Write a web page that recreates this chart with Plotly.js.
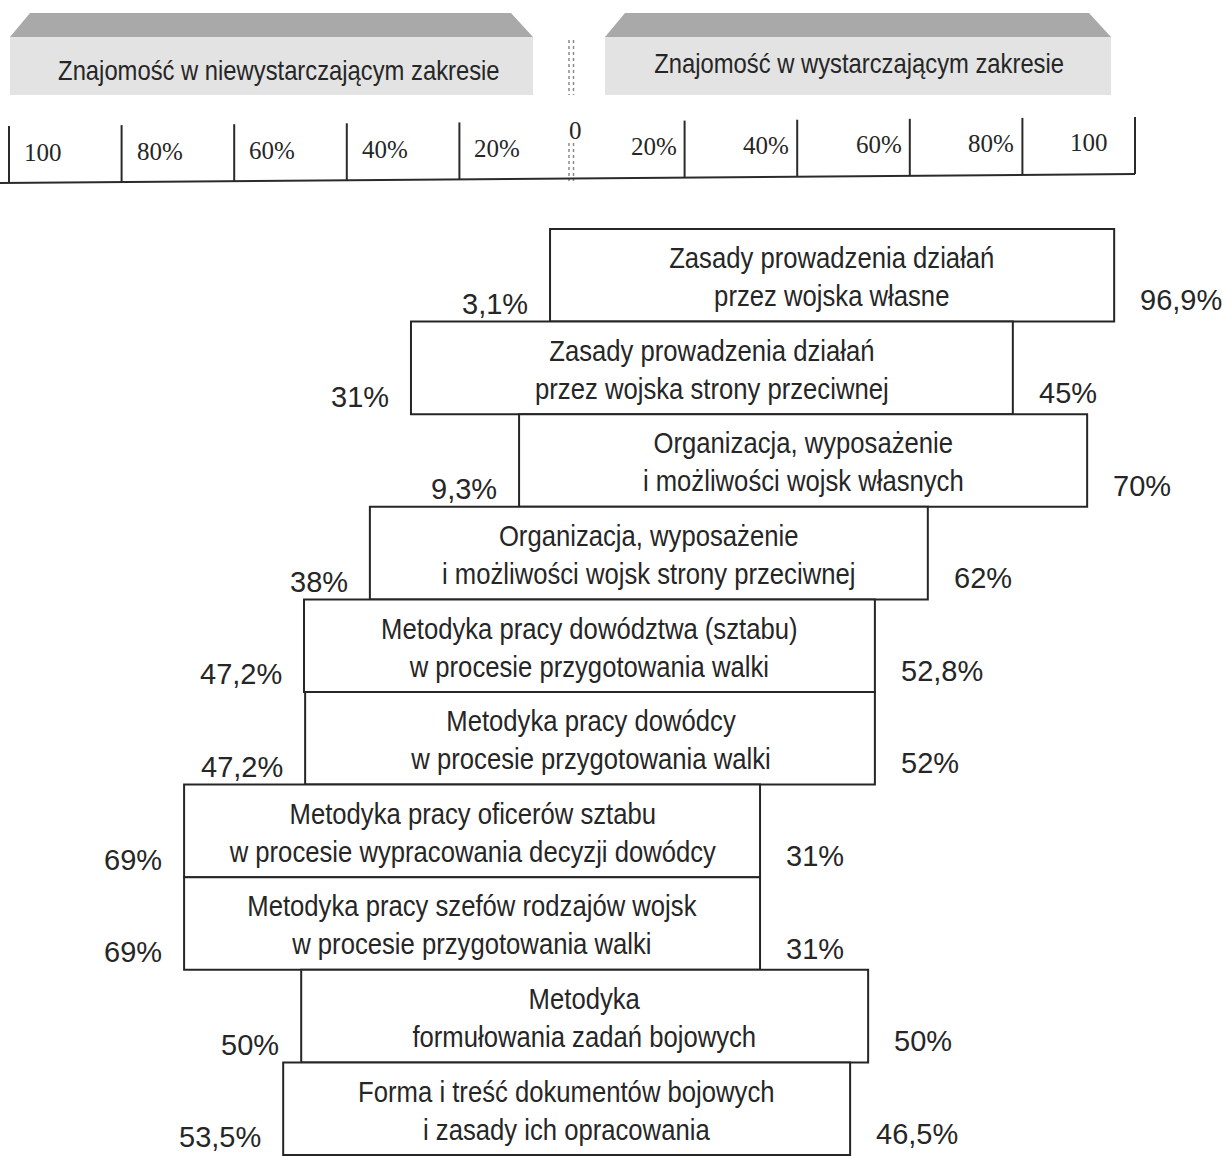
<!DOCTYPE html>
<html>
<head>
<meta charset="utf-8">
<script src="https://cdn.plot.ly/plotly-3.0.1.min.js"></script>
<style>html,body{margin:0;padding:0;background:#fff;}#chart{width:1223px;height:1156px;}</style>
</head>
<body>
<div id="chart"></div>
<script>
// ---- data ----
const topics = [
  "Zasady prowadzenia działań<br>przez wojska własne",
  "Zasady prowadzenia działań<br>przez wojska strony przeciwnej",
  "Organizacja, wyposażenie<br>i możliwości wojsk własnych",
  "Organizacja, wyposażenie<br>i możliwości wojsk strony przeciwnej",
  "Metodyka pracy dowództwa (sztabu)<br>w procesie przygotowania walki",
  "Metodyka pracy dowódcy<br>w procesie przygotowania walki",
  "Metodyka pracy oficerów sztabu<br>w procesie wypracowania decyzji dowódcy",
  "Metodyka pracy szefów rodzajów wojsk<br>w procesie przygotowania walki",
  "Metodyka<br>formułowania zadań bojowych",
  "Forma i treść dokumentów bojowych<br>i zasady ich opracowania"
];
const insufficient = [3.1, 31, 9.3, 38, 47.2, 47.2, 69, 69, 50, 53.5];
const sufficient   = [96.9, 45, 70, 62, 52.8, 52, 31, 31, 50, 46.5];
// drawn extent of each box on the % scale
const barFrom = [-3.9, -28.6, -9.4, -35.9, -47.6, -47.4, -68.9, -68.9, -48.1, -51.3];
const barTo   = [96.3, 78.3, 91.5, 63.2, 53.8, 53.8, 33.4, 33.4, 52.6, 49.4];
const scaleTicks  = [-100, -80, -60, -40, -20, 20, 40, 60, 80, 100];
const scaleLabels = ["100", "80%", "60%", "40%", "20%", "20%", "40%", "60%", "80%", "100"];
const headerLabels = ["Znajomość w niewystarczającym zakresie", "Znajomość w wystarczającym zakresie"];

// ---- geometry helpers ----
const W = 1223, H = 1156;
const X0 = 572, PXPCT = 5.63;
const xr = [(0 - X0) / PXPCT, (W - X0) / PXPCT];
const ROW0 = 229, ROWH = 92.6;
const yr = [(H - ROW0) / ROWH - 0.5, (0 - ROW0) / ROWH - 0.5];
const px = v => X0 + PXPCT * v;
const PX = p => p / W;
const PY = p => 1 - p / H;
const fmt = v => String(v).replace('.', ',') + '%';

const SANS = '"Liberation Sans", Arial, sans-serif';
const SERIF = '"Liberation Serif", "Times New Roman", serif';
const INK = '#262626';

const rows = topics.map((_, i) => i);

const trace = {
  type: 'bar', orientation: 'h',
  y: rows,
  base: barFrom,
  x: barTo.map((t, i) => t - barFrom[i]),
  width: 1,
  marker: {color: '#ffffff', line: {color: '#262626', width: 2}},
  hoverinfo: 'skip', showlegend: false
};

const shapes = [];
const annotations = [];
const narrowIdx = [];   // annotations to be drawn condensed (like Arial Narrow)

// header boxes
function headerBox(l, r) {
  shapes.push({type: 'rect', xref: 'paper', yref: 'paper', x0: PX(l), x1: PX(r), y0: PY(95), y1: PY(37),
    fillcolor: '#e3e3e3', line: {width: 0}, layer: 'below'});
  shapes.push({type: 'path', xref: 'paper', yref: 'paper',
    path: `M ${PX(l)} ${PY(37)} L ${PX(l + 20)} ${PY(13)} L ${PX(r - 22)} ${PY(13)} L ${PX(r)} ${PY(37)} Z`,
    fillcolor: '#a9a9a9', line: {width: 0}, layer: 'below'});
}
headerBox(10, 533);
headerBox(605, 1111);
narrowIdx.push([annotations.length, 0.85]);
annotations.push({xref: 'paper', yref: 'paper', x: PX(279), y: PY(70), text: headerLabels[0], showarrow: false,
  font: {family: SANS, size: 28, color: INK}, xanchor: 'center', yanchor: 'middle'});
narrowIdx.push([annotations.length, 0.85]);
annotations.push({xref: 'paper', yref: 'paper', x: PX(859), y: PY(63), text: headerLabels[1], showarrow: false,
  font: {family: SANS, size: 28, color: INK}, xanchor: 'center', yanchor: 'middle'});

// centre dashed double line
[[40, 95], [143, 181]].forEach(([a, b]) => {
  [569, 573.5].forEach(xx => shapes.push({type: 'line', xref: 'paper', yref: 'paper', x0: PX(xx), x1: PX(xx),
    y0: PY(a), y1: PY(b), line: {color: '#8a8a8a', width: 1.5, dash: 'dot'}}));
});
annotations.push({xref: 'paper', yref: 'paper', x: PX(575), y: PY(130), text: '0', showarrow: false,
  font: {family: SERIF, size: 25, color: INK}, xanchor: 'center', yanchor: 'middle'});

// ruler (slightly skewed like the scan)
const skew = (p, a, b) => a + (b - a) * (p - 9) / (1135 - 9);
shapes.push({type: 'line', xref: 'paper', yref: 'paper', x0: PX(0), x1: PX(1135), y0: PY(183), y1: PY(174),
  line: {color: '#2a2a2a', width: 2}});
scaleTicks.forEach((t, k) => {
  const p = px(t);
  shapes.push({type: 'line', xref: 'paper', yref: 'paper', x0: PX(p), x1: PX(p),
    y0: PY(skew(p, 126, 117)), y1: PY(skew(p, 183, 174)), line: {color: '#2a2a2a', width: 2}});
  const left = t < 0;
  let shift = left ? 13 : -6;
  if (t === 100) shift = -25;
  annotations.push({xref: 'paper', yref: 'paper', x: PX(p), y: PY(skew(p, 152, 143)), text: scaleLabels[k],
    showarrow: false, xanchor: left ? 'left' : 'right', yanchor: 'middle', xshift: shift,
    font: {family: SERIF, size: 25, color: INK}});
});

// box texts and side labels
rows.forEach(i => {
  narrowIdx.push([annotations.length, 0.885]);
  annotations.push({xref: 'x', yref: 'y', x: (barFrom[i] + barTo[i]) / 2, y: i + 0.02, text: topics[i], showarrow: false,
    xanchor: 'center', yanchor: 'middle', font: {family: SANS, size: 29, color: INK}});
  annotations.push({xref: 'x', yref: 'y', x: barFrom[i], y: i + 0.31, text: fmt(insufficient[i]), showarrow: false,
    xanchor: 'right', yanchor: 'middle', xshift: -20, font: {family: SANS, size: 29, color: INK}});
  annotations.push({xref: 'x', yref: 'y', x: barTo[i], y: i + 0.27, text: fmt(sufficient[i]), showarrow: false,
    xanchor: 'left', yanchor: 'middle', xshift: 24, font: {family: SANS, size: 29, color: INK}});
});

const layout = {
  width: W, height: H,
  margin: {l: 0, r: 0, t: 0, b: 0, pad: 0},
  paper_bgcolor: '#ffffff', plot_bgcolor: '#ffffff',
  xaxis: {range: xr, visible: false, fixedrange: true},
  yaxis: {range: yr, visible: false, fixedrange: true},
  bargap: 0,
  shapes: shapes,
  annotations: annotations,
  showlegend: false
};

Plotly.newPlot('chart', [trace], layout, {staticPlot: true, displayModeBar: false}).then(gd => {
  // condense selected annotation texts horizontally around their centre
  const groups = gd.querySelectorAll('.annotation');
  narrowIdx.forEach(([idx, k]) => {
    const g = Array.from(groups).find(el => el.getAttribute('data-index') === String(idx));
    if (!g) return;
    const t = g.querySelector('text');
    if (!t) return;
    const bb = t.getBBox();
    const cx = bb.x + bb.width / 2;
    const prev = t.getAttribute('transform') || '';
    t.setAttribute('transform', `${prev} translate(${cx},0) scale(${k},1) translate(${-cx},0)`);
  });
});
</script>
</body>
</html>
